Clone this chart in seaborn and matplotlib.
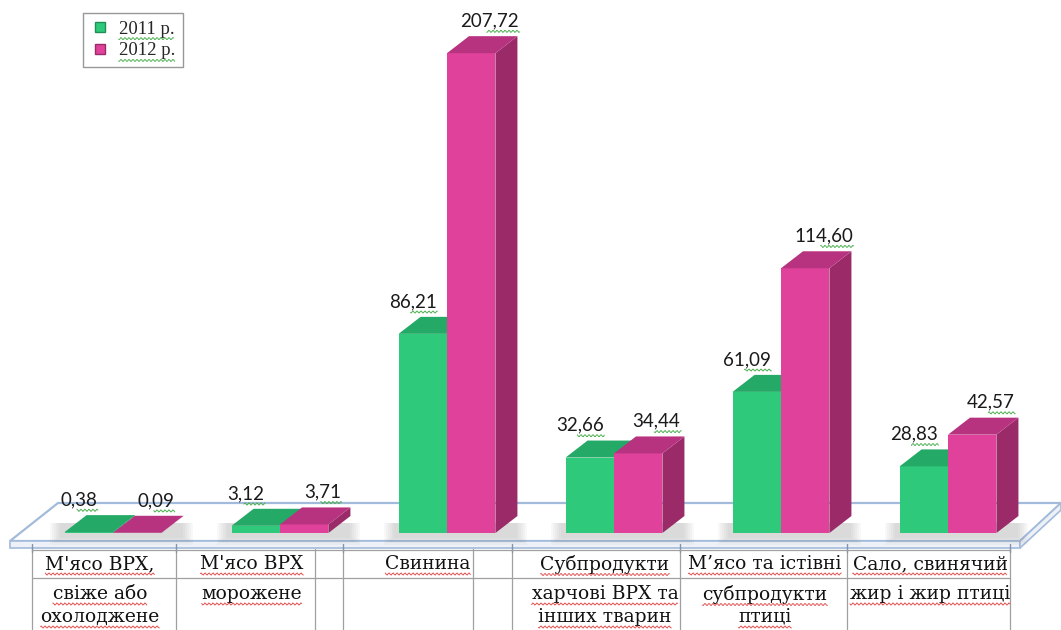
import numpy as np
import pandas as pd
import matplotlib.pyplot as plt
import seaborn as sns
from matplotlib.patches import Polygon
from matplotlib.lines import Line2D

# ==========================
# Data
# ==========================

label_row1 = ["М'ясо ВРХ,", "М'ясо ВРХ", "Свинина", "Субпродукти",
              "М’ясо та істівні", "Сало, свинячий"]
label_row2 = ["свіже або\nохолоджене", "морожене", "",
              "харчові ВРХ та\nінших тварин", "субпродукти\nптиці",
              "жир і жир птиці"]
categories = [a + " " + b.replace("\n", " ") for a, b in zip(label_row1, label_row2)]

years = ["2011 р.", "2012 р."]
values_2011 = [0.38, 3.12, 86.21, 32.66, 61.09, 28.83]
values_2012 = [0.09, 3.71, 207.72, 34.44, 114.60, 42.57]

df = pd.DataFrame({
    "cat": categories * 2,
    "year": [years[0]] * 6 + [years[1]] * 6,
    "value": values_2011 + values_2012,
})

# ==========================
# Style
# ==========================

W, H = 1061, 630
X0_PX, STEP_PX = 113, 167      # pixel of first category, spacing
BASE_PX, SCALE = 533, 2.31     # pixel row of value 0, pixels per unit

front = {"2011 р.": "#2fc97b", "2012 р.": "#df419b"}
top = {"2011 р.": "#25a967", "2012 р.": "#b8337f"}
side = {"2011 р.": "#1f8f56", "2012 р.": "#9a2a68"}

DX = 22 / STEP_PX
DY = 17 / SCALE


def px(x):
    return (x - X0_PX) / STEP_PX


def py(y):
    return (BASE_PX - y) / SCALE


sns.set_style("white")
plt.rcParams["font.family"] = ["DejaVu Serif"]

fig = plt.figure(figsize=(W / 100, H / 100), dpi=100)
ax = fig.add_axes([0, 0, 1, 1])

sns.barplot(data=df, x="cat", y="value", hue="year", palette=front,
            width=0.58, saturation=1, legend=False, ax=ax,
            edgecolor="none", linewidth=0)

bars = sorted(list(ax.patches), key=lambda p: p.get_x())
bar_years = []
for b in bars:
    c = b.get_facecolor()
    bar_years.append(years[0] if c[1] > 0.5 else years[1])

# ==========================
# Floor
# ==========================

floor_col = "#a3bbdb"
floor = Polygon([(px(10), py(541)), (px(1020), py(541)),
                 (px(1061), py(503)), (px(58), py(503))],
                closed=True, facecolor="white", edgecolor=floor_col,
                linewidth=1.6, zorder=0.5)
ax.add_patch(floor)
slab_front = Polygon([(px(10), py(541)), (px(1020), py(541)),
                      (px(1020), py(548)), (px(10), py(548))],
                     closed=True, facecolor="#eef2f8", edgecolor=floor_col,
                     linewidth=1.2, zorder=0.6)
ax.add_patch(slab_front)
slab_side = Polygon([(px(1020), py(541)), (px(1061), py(503)),
                     (px(1061), py(510)), (px(1020), py(548))],
                    closed=True, facecolor="#eef2f8", edgecolor=floor_col,
                    linewidth=1.2, zorder=0.6)
ax.add_patch(slab_side)

# soft shadows under bars
for i in range(len(categories)):
    pair = [b for b in bars if abs(b.get_x() + b.get_width() - i) < 0.2
            or abs(b.get_x() - i) < 0.2]
    xl = min(b.get_x() for b in pair)
    xr = max(b.get_x() + b.get_width() for b in pair)
    for k in range(6):
        e = 0.012 * k
        sh = Polygon([(xl - e - 0.03, -2 - k * 0.6), (xr + DX + e, -2 - k * 0.6),
                      (xr + DX + e, DY * 0.6), (xl - e - 0.03, DY * 0.6)],
                     closed=True, facecolor="#808080", edgecolor="none",
                     alpha=0.05, zorder=0.8)
        ax.add_patch(sh)

# ==========================
# 3D faces and value labels
# ==========================

value_texts = []
for b, yr in zip(bars, bar_years):
    x0, w, h = b.get_x(), b.get_width(), b.get_height()
    z = 3 if yr == years[0] else 4
    b.set_zorder(z)
    t = Polygon([(x0, h), (x0 + w, h), (x0 + w + DX, h + DY), (x0 + DX, h + DY)],
                closed=True, facecolor=top[yr], edgecolor="none", zorder=z)
    s = Polygon([(x0 + w, 0), (x0 + w + DX, DY), (x0 + w + DX, h + DY), (x0 + w, h)],
                closed=True, facecolor=side[yr], edgecolor="none", zorder=z)
    ax.add_patch(s)
    ax.add_patch(t)
    off = -0.06 if yr == years[0] else 0.11
    txt = ax.text(x0 + w / 2 + off, h + 14, f"{h:.2f}".replace(".", ","),
                  ha="center", va="center", fontsize=13.5, family=["Lato", "DejaVu Sans"],
                  color="#1a1a1a", zorder=6)
    value_texts.append(txt)

# ==========================
# Table of categories
# ==========================

line_col = "#a0a0a0"
col_lines = [32, 176, 315, 343, 473, 512, 680, 847, 1010]
for x in col_lines:
    ax.plot([px(x), px(x)], [py(549), py(H)], color=line_col, lw=0.9, zorder=1)
for x in [32, 176, 343, 512, 680, 847, 1010]:
    ax.plot([px(x), px(x)], [py(544), py(552)], color="#7f93b0", lw=1, zorder=1)
ax.plot([px(32), px(1010)], [py(578), py(578)], color=line_col, lw=0.9, zorder=1)
ax.plot([px(32), px(1010)], [py(550), py(550)], color=line_col, lw=0.9, zorder=1)

label_px = [100, 252, 428, 605, 765, 930]
table_texts = []
for x, r1, r2 in zip(label_px, label_row1, label_row2):
    table_texts.append(ax.text(px(x), py(564), r1, ha="center", va="center",
                               fontsize=13.5, color="#111111"))
    for j, line in enumerate(r2.split("\n") if r2 else []):
        table_texts.append(ax.text(px(x), py(594 + 23 * j), line, ha="center",
                                   va="center", fontsize=13.5, color="#111111"))

ax.set_xlim(px(0), px(W))
ax.set_ylim(py(H), py(0))
ax.axis("off")

# ==========================
# Legend
# ==========================

handles = [Line2D([], [], marker="s", linestyle="", markersize=7.5,
                  markerfacecolor=front[y], markeredgecolor=side[y], label=y)
           for y in years]
leg = fig.legend(handles=handles, loc="upper left",
                 bbox_to_anchor=(83 / W, 1 - 13 / H), borderaxespad=0,
                 frameon=True, fancybox=False, edgecolor="#7f7f7f",
                 prop={"family": "Liberation Serif", "size": 13.5},
                 handlelength=1.0, handletextpad=0.5, borderpad=0.4,
                 labelspacing=0.25)
leg.get_frame().set_linewidth(1.0)

# ==========================
# Spell-check squiggles (as in the source document)
# ==========================

fig.canvas.draw()


def squiggle(x0, x1, y, color):
    xs = np.arange(x0, x1, 1.0)
    ys = y + 1.1 * np.sin(xs * np.pi / 2.0)
    fig.add_artist(Line2D(xs / W, ys / H, transform=fig.transFigure,
                          color=color, lw=0.7, zorder=10))


for t in value_texts:
    bb = t.get_window_extent()
    squiggle(bb.x0 + bb.width * 0.45, bb.x1 + 1, bb.y0 - 2, "#4caf50")
for t in table_texts:
    bb = t.get_window_extent()
    squiggle(bb.x0, bb.x1, bb.y0 - 1, "#e05050")
for t in leg.get_texts():
    bb = t.get_window_extent()
    squiggle(bb.x0, bb.x1, bb.y0 - 1, "#4caf50")

fig.savefig("out.png", dpi=100, facecolor="white")
